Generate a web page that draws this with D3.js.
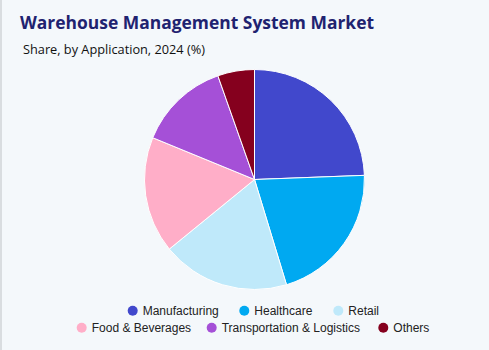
<!DOCTYPE html>
<html><head><meta charset="utf-8">
<script src="https://cdn.jsdelivr.net/npm/d3@7"></script>
<style>
html,body{margin:0;padding:0;background:#f4f8fb;}
svg{display:block;}
</style></head>
<body>
<svg id="c" width="489" height="350"></svg>
<script>
const categories = ["Manufacturing","Healthcare","Retail","Food & Beverages","Transportation & Logistics","Others"];
const shares = [24.4, 20.9, 18.8, 17.1, 13.4, 5.4];
const colors = ["#4148cc","#00a9f1","#bfe9fa","#ffaec8","#a550d7","#85001e"];
const legendRows = [[0,1,2],[3,4,5]];

const svg = d3.select("#c");
svg.append("rect").attr("width",489).attr("height",350).attr("fill","#f4f8fb");
svg.append("rect").attr("x",0).attr("y",0).attr("width",2).attr("height",350).attr("fill","#d9dde0");

svg.append("text").attr("x",20).attr("y",29)
  .attr("font-family","'Open Sans', sans-serif").attr("font-weight","bold").attr("font-size",18.5)
  .attr("textLength",354).attr("lengthAdjust","spacingAndGlyphs")
  .attr("fill","#1f2370").text("Warehouse Management System Market");
svg.append("text").attr("x",23).attr("y",54)
  .attr("font-family","'Open Sans', sans-serif").attr("font-size",13.5)
  .attr("textLength",182).attr("lengthAdjust","spacingAndGlyphs")
  .attr("fill","#111").text("Share, by Application, 2024 (%)");

const cx = 254.5, cy = 179.5, r = 110;
const pie = d3.pie().sort(null).value(d=>d);
const arc = d3.arc().innerRadius(0).outerRadius(r);
const g = svg.append("g").attr("transform",`translate(${cx},${cy})`);
g.selectAll("path").data(pie(shares)).join("path")
  .attr("d",arc).attr("fill",(d,i)=>colors[i])
  .attr("stroke","#ffffff").attr("stroke-width",1);

const legendX = [[132.7,244.3,338.3],[81.7,211.7,383.3]];
const legendY = [310.7,327.7];
legendRows.forEach((row,ri)=>{
  row.forEach((ci,k)=>{
    const lg = svg.append("g").attr("transform",`translate(${legendX[ri][k]},${legendY[ri]})`);
    lg.append("circle").attr("r",5).attr("fill",colors[ci]);
    lg.append("text").attr("x",10).attr("y",4.3)
      .attr("font-family","'Liberation Sans', Arial, sans-serif").attr("font-size",12)
      .attr("fill","#222").text(categories[ci]);
  });
});
</script>
</body></html>
